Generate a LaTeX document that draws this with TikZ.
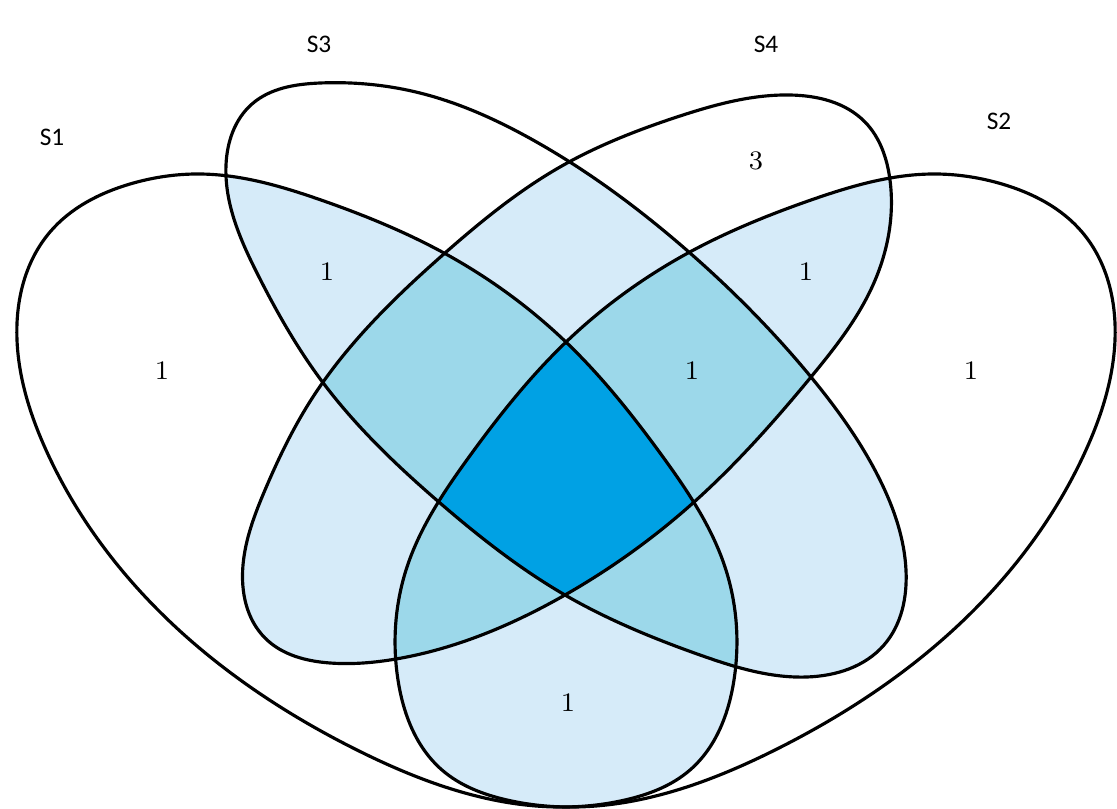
\documentclass[tikz,border=0pt]{standalone}
\usepackage{fontspec}
\newfontfamily\labelfont{Carlito}
\usetikzlibrary{positioning,hobby}

\definecolor{venntwo}{RGB}{214,235,249}
\definecolor{vennthree}{RGB}{156,216,234}
\definecolor{vennfour}{RGB}{0,161,228}

% the four set outlines, in picture pixels
\newcommand{\SetOne}{plot[closed hobby] coordinates {(566,807) (357,750) (161,613) (46,450) (17,340) (50,232) (130,184) (200,174) (321,200) (444,253) (568,344) (663,457) (725,567) (734,680) (690,770) (625,800)}}
\newcommand{\SetTwo}{plot[closed hobby] coordinates {(566,807) (775,750) (971,613) (1086,450) (1115,340) (1082,232) (1002,184) (932,174) (811,200) (688,253) (564,344) (469,457) (407,567) (398,680) (442,770) (507,800)}}
\newcommand{\SetThree}{plot[closed hobby] coordinates {(226,165) (252,104) (320,83) (420,93) (533,140) (690,253) (811,377) (880,480) (906,570) (884,645) (807,677) (700,655) (565,595) (440,503) (321,380) (258,275)}}
\newcommand{\SetFour}{plot[closed hobby] coordinates {(243,565) (265,490) (311,400) (445,253) (560,167) (680,116) (790,95) (865,122) (890,180) (873,285) (811,377) (693,503) (565,595) (396,659) (330,663) (265,638)}}

\begin{document}
\begin{tikzpicture}[x=0.01cm, y=-0.01cm,
    outline/.style={draw=black, line width=0.9pt},
    setname/.style={font=\labelfont\fontsize{7.2}{8}\selectfont},
    count/.style={font=\fontsize{7.6}{9}\selectfont}]
  \useasboundingbox (0,0) rectangle (1117,809);

  % two sets
  \begin{scope}\clip \SetOne; \fill[venntwo] \SetTwo; \end{scope}
  \begin{scope}\clip \SetOne; \fill[venntwo] \SetThree; \end{scope}
  \begin{scope}\clip \SetOne; \fill[venntwo] \SetFour; \end{scope}
  \begin{scope}\clip \SetTwo; \fill[venntwo] \SetThree; \end{scope}
  \begin{scope}\clip \SetTwo; \fill[venntwo] \SetFour; \end{scope}
  \begin{scope}\clip \SetThree; \fill[venntwo] \SetFour; \end{scope}

  % three sets
  \begin{scope}\clip \SetOne; \clip \SetTwo; \fill[vennthree] \SetThree; \end{scope}
  \begin{scope}\clip \SetOne; \clip \SetTwo; \fill[vennthree] \SetFour; \end{scope}
  \begin{scope}\clip \SetOne; \clip \SetThree; \fill[vennthree] \SetFour; \end{scope}
  \begin{scope}\clip \SetTwo; \clip \SetThree; \fill[vennthree] \SetFour; \end{scope}

  % all four
  \begin{scope}\clip \SetOne; \clip \SetTwo; \clip \SetThree; \fill[vennfour] \SetFour; \end{scope}

  \draw[outline] \SetOne;
  \draw[outline] \SetTwo;
  \draw[outline] \SetThree;
  \draw[outline] \SetFour;

  \node[setname] (nameS1) at (52,137) {S1};
  \node[setname] (nameS3) at (319,44) {S3};
  \node[setname] (nameS4) at (766,44) {S4};
  \node[setname] (nameS2) at (999,121) {S2};

  \node[count] (onlyS1) at (162,371) {1};
  \node[count] (cutS1S3) at (327,272) {1};
  \node[count] (onlyS4) at (756,161) {3};
  \node[count] (cutS2S4) at (806,272) {1};
  \node[count] (cutS2S3S4) at (692,371) {1};
  \node[count] (onlyS2) at (971,371) {1};
  \node[count] (cutS1S2) at (568,703) {1};
\end{tikzpicture}
\end{document}
